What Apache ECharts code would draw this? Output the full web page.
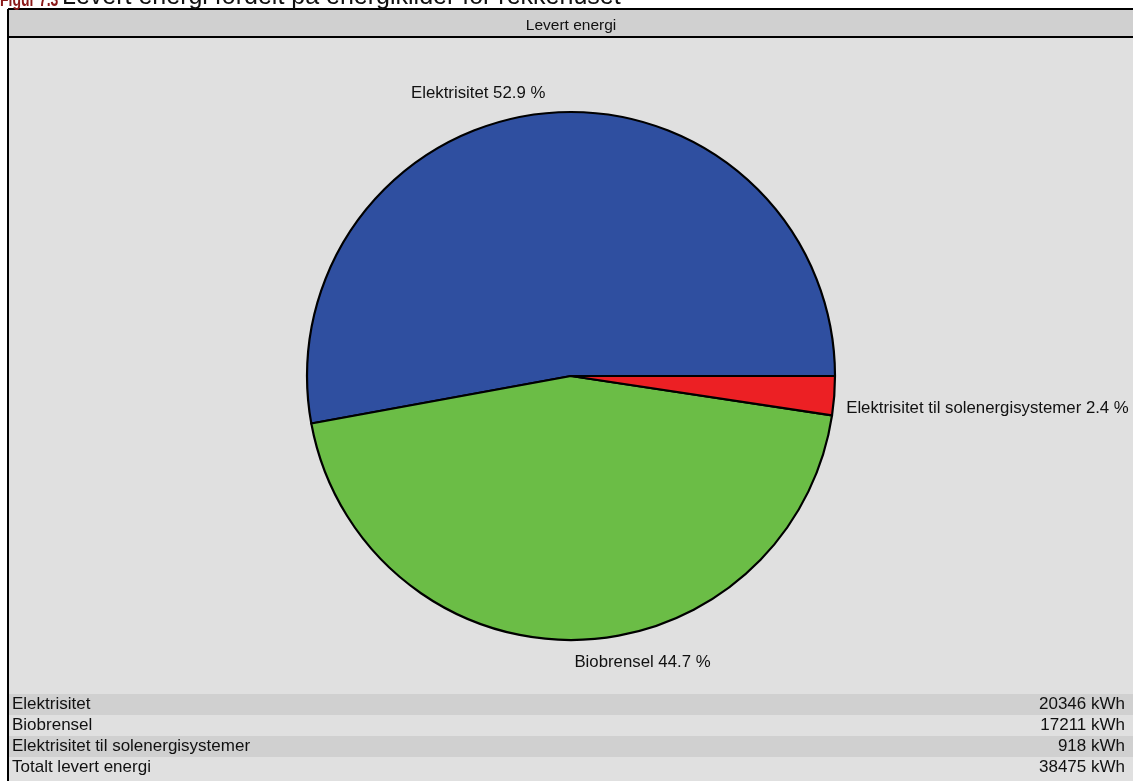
<!DOCTYPE html>
<html>
<head>
<meta charset="utf-8">
<script src="https://cdn.jsdelivr.net/npm/echarts@6/dist/echarts.min.js"></script>
<style>
html,body{margin:0;padding:0;background:#ffffff;}
#chart{width:1133px;height:781px;}
</style>
</head>
<body>
<div id="chart"></div>
<script>
const categories = ['Elektrisitet', 'Biobrensel', 'Elektrisitet til solenergisystemer'];
const values = [20346, 17211, 918];
const colors = ['#2f4fa0', '#6bbd46', '#ec2024'];
const tableLabels = ['Elektrisitet', 'Biobrensel', 'Elektrisitet til solenergisystemer', 'Totalt levert energi'];
const tableValues = [20346, 17211, 918, 38475];
const unit = 'kWh';
const chartTitle = 'Levert energi';
const captionNum = 'Figur 7.3';
const captionText = 'Levert energi fordelt på energikilder for rekkehuset';

const FONT = '"Liberation Sans", Arial, sans-serif';
const chart = echarts.init(document.getElementById('chart'), null, {renderer: 'canvas'});

const W = 1133, H = 781;
const frameX = 8, frameY = 9, titleBottom = 37;
const rowTop = 694, rowH = 21;

const graphics = [];
// chart area background
graphics.push({type: 'rect', z: -10, shape: {x: frameX, y: frameY, width: W - frameX + 5, height: H - frameY + 5},
  style: {fill: '#e0e0e0', stroke: null}});
// title bar
graphics.push({type: 'rect', z: -9, shape: {x: frameX, y: frameY, width: W - frameX + 5, height: titleBottom - frameY},
  style: {fill: '#d0d0d0', stroke: null}});
// frame lines
graphics.push({type: 'line', z: -8, shape: {x1: frameX, y1: frameY, x2: W + 5, y2: frameY}, style: {stroke: '#000', lineWidth: 2}});
graphics.push({type: 'line', z: -8, shape: {x1: frameX, y1: titleBottom, x2: W + 5, y2: titleBottom}, style: {stroke: '#000', lineWidth: 2}});
graphics.push({type: 'line', z: -8, shape: {x1: frameX, y1: frameY, x2: frameX, y2: H + 5}, style: {stroke: '#000', lineWidth: 2}});
// caption (cut off at top of the picture)
graphics.push({type: 'text', z: 5, x: 0, y: 10, scaleX: 0.7,
  style: {text: captionNum, font: 'bold 20px ' + FONT, fill: '#8b1a1a', verticalAlign: 'bottom'}});
graphics.push({type: 'text', z: 5, x: 62, y: 10,
  style: {text: captionText, font: '25px ' + FONT, fill: '#111', verticalAlign: 'bottom'}});
// table
tableLabels.forEach((lab, i) => {
  const y = rowTop + i * rowH;
  if (i % 2 === 0) {
    graphics.push({type: 'rect', z: -7, shape: {x: frameX + 1, y: y, width: W - frameX, height: rowH},
      style: {fill: '#d0d0d0'}});
  }
  graphics.push({type: 'text', z: 5, x: 12, y: y + rowH / 2,
    style: {text: lab, font: '17px ' + FONT, fill: '#111', align: 'left', verticalAlign: 'middle'}});
  graphics.push({type: 'text', z: 5, x: 1125, y: y + rowH / 2,
    style: {text: tableValues[i] + ' ' + unit, font: '17px ' + FONT, fill: '#111', align: 'right', verticalAlign: 'middle'}});
});

const labelShift = [{dx: 5, dy: 0}, {dx: -6, dy: 2}, {dx: -13, dy: 11}];

chart.setOption({
  backgroundColor: '#ffffff',
  animation: false,
  title: {
    text: chartTitle, left: 566, top: 13, textAlign: 'center',
    textStyle: {fontFamily: FONT, fontSize: 15.5, fontWeight: 'normal', color: '#111'}
  },
  graphic: graphics,
  series: [{
    type: 'pie',
    center: [571, 376],
    radius: 264,
    startAngle: 0,
    clockwise: false,
    percentPrecision: 1,
    avoidLabelOverlap: false,
    data: categories.map((c, i) => ({name: c, value: values[i], itemStyle: {color: colors[i]}})),
    itemStyle: {borderColor: '#000', borderWidth: 2.2},
    label: {
      show: true, position: 'outside', formatter: '{b} {d} %',
      fontFamily: FONT, fontSize: 16.8, color: '#111'
    },
    labelLine: {show: false, length: 20, length2: 0},
    labelLayout: function (p) { return labelShift[p.dataIndex]; },
    emphasis: {disabled: true}
  }]
});
</script>
</body>
</html>
